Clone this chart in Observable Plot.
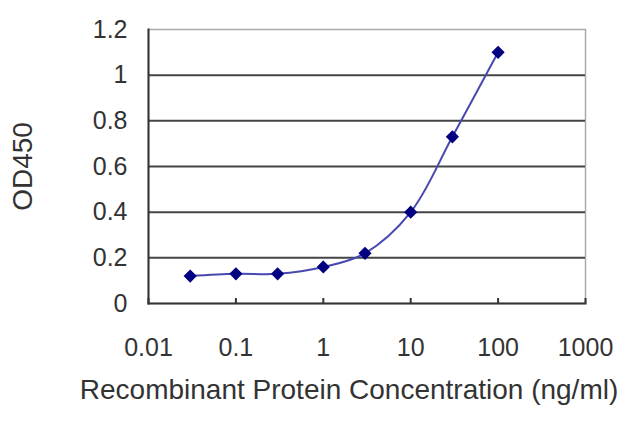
<!DOCTYPE html>
<html>
<head>
<meta charset="utf-8">
<script src="https://cdn.jsdelivr.net/npm/d3@7"></script>
<script src="https://cdn.jsdelivr.net/npm/@observablehq/plot@0.6"></script>
<style>
  body { margin: 0; background: #fff; }
  #chart svg { display: block; }
</style>
</head>
<body>
<div id="chart"></div>
<script>
// concentration (ng/ml) and OD450 readings
const conc = [0.03, 0.1, 0.3, 1, 3, 10, 30, 100];
const od = [0.12, 0.13, 0.13, 0.16, 0.22, 0.40, 0.73, 1.10];
const xTicks = [0.01, 0.1, 1, 10, 100, 1000];
const yTicks = [0, 0.2, 0.4, 0.6, 0.8, 1, 1.2];
const gridVals = [0.2, 0.4, 0.6, 0.8, 1];
const xTitle = "Recombinant Protein Concentration (ng/ml)";
const yTitle = "OD450";

const data = conc.map((c, i) => ({conc: c, od: od[i]}));

let chart = Plot.plot({
  width: 640,
  height: 427,
  marginLeft: 148,
  marginRight: 55,
  marginTop: 29,
  marginBottom: 124,
  style: {fontFamily: "'Liberation Sans', Arial, sans-serif", color: "#333", background: "#fff"},
  x: {type: "log", domain: [0.01, 1000]},
  y: {domain: [0, 1.2]},
  marks: [
    Plot.frame({stroke: "#aaa", strokeWidth: 1.5}),
    Plot.ruleY(gridVals, {stroke: "#444", strokeWidth: 2}),
    Plot.frame({anchor: "left", stroke: "#333", strokeWidth: 2}),
    Plot.frame({anchor: "bottom", stroke: "#333", strokeWidth: 2}),
    Plot.axisX({
      ticks: xTicks,
      tickFormat: d => String(d),
      tickSize: -5,
      tickPadding: 40,
      strokeWidth: 2,
      fontSize: 25,
      label: null
    }),
    Plot.axisY({
      ticks: yTicks,
      tickFormat: d => String(d),
      tickSize: 0,
      tickPadding: 21,
      fontSize: 25,
      label: null
    }),
    Plot.text([xTitle], {frameAnchor: "bottom", dy: 95, dx: -18, fontSize: 28, fill: "#333"}),
    Plot.text([yTitle], {frameAnchor: "left", textAnchor: "middle", dx: -125, rotate: -90, fontSize: 28, fill: "#333"}),
    Plot.line(data, {x: "conc", y: "od", curve: "catmull-rom", stroke: "#4848b0", strokeWidth: 2}),
    Plot.dot(data, {x: "conc", y: "od", symbol: "diamond2", r: 5, fill: "#000080", stroke: "#000080"})
  ]
});
d3.select("#chart").append(() => chart);
</script>
</body>
</html>
